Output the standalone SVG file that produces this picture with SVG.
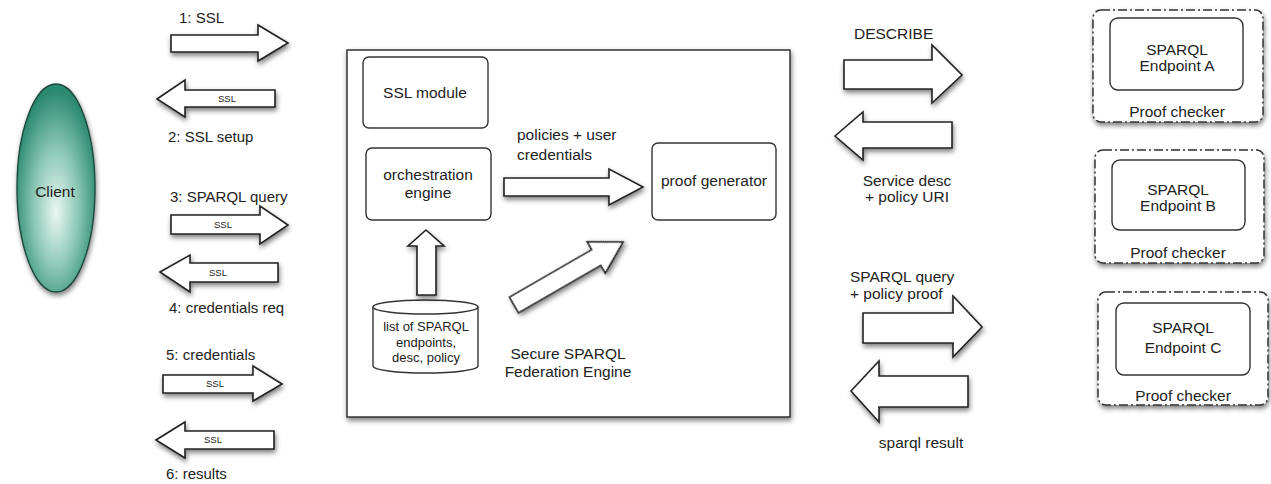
<svg xmlns="http://www.w3.org/2000/svg" width="1271" height="484" viewBox="0 0 1271 484">
<style>
text{font-family:"Liberation Sans",Arial,sans-serif;fill:#222;font-size:15.5px}
.l{font-size:15px}
.s{font-size:9.5px;text-anchor:middle}
.c{text-anchor:middle}
.db{font-size:13px;text-anchor:middle}
.arr{fill:#fff;stroke:#222;stroke-width:1.6;stroke-linejoin:miter;filter:url(#sh)}
.box{fill:#fff;stroke:#333;stroke-width:1.4}
.dash{fill:#fff;stroke:#333;stroke-width:1.5;stroke-dasharray:9 3 2 3;filter:url(#sh)}
</style>
<defs>
<filter id="sh" x="-20%" y="-20%" width="140%" height="150%">
<feDropShadow dx="1" dy="3" stdDeviation="2.5" flood-color="#000" flood-opacity="0.5"/>
</filter>
<radialGradient id="cg" cx="50%" cy="58%" r="55%" fx="50%" fy="62%">
<stop offset="0" stop-color="#eaf6f2"/>
<stop offset="0.5" stop-color="#8fcab8"/>
<stop offset="1" stop-color="#2b8a6e"/>
</radialGradient>
</defs>
<rect width="1271" height="484" fill="#fff"/>

<g id="client">
<ellipse cx="56" cy="188" rx="39" ry="104" fill="url(#cg)" stroke="#1e4a3c" stroke-width="1.4" filter="url(#sh)"/>
<text x="55" y="197" class="c">Client</text>
</g>

<g id="engine">
<rect x="347" y="50" width="443" height="367" fill="#fff" stroke="#333" stroke-width="1.5" filter="url(#sh)"/>
<text x="568" y="359" class="c">Secure SPARQL</text>
<text x="568" y="377" class="c">Federation Engine</text>
</g>
<g id="ssl-module">
<rect x="363" y="57" width="125" height="71" rx="6" class="box"/>
<text x="425" y="97.5" class="c">SSL module</text>
</g>
<g id="orchestration">
<rect x="366" y="148" width="125" height="72" rx="6" class="box"/>
<text x="428" y="180" class="c">orchestration</text>
<text x="428" y="198" class="c">engine</text>
</g>
<g id="proof-generator">
<rect x="652" y="143" width="124" height="77" rx="6" class="box"/>
<text x="714" y="186" class="c">proof generator</text>
</g>
<g id="endpoint-list">
<path d="M373,307 A52.5,7 0 0 1 478,307 L478,366 A52.5,7 0 0 1 373,366 Z" class="box"/>
<path d="M373,307 A52.5,7 0 0 0 478,307" fill="none" stroke="#333" stroke-width="1.4"/>
<text x="426" y="331" class="db">list of SPARQL</text>
<text x="426" y="347" class="db">endpoints,</text>
<text x="426" y="362" class="db">desc, policy</text>
</g>

<g id="endpoint-a">
<rect x="1093" y="10" width="170" height="112" rx="8" class="dash"/>
<rect x="1110" y="18" width="133" height="72" rx="8" class="box"/>
<text x="1177" y="55" class="c">SPARQL</text>
<text x="1177" y="71" class="c">Endpoint A</text>
<text x="1177" y="117" class="c">Proof checker</text>
</g>
<g id="endpoint-b">
<rect x="1095" y="150" width="169" height="113" rx="8" class="dash"/>
<rect x="1112" y="160" width="133" height="70" rx="8" class="box"/>
<text x="1178" y="195" class="c">SPARQL</text>
<text x="1178" y="211" class="c">Endpoint B</text>
<text x="1178" y="258" class="c">Proof checker</text>
</g>
<g id="endpoint-c">
<rect x="1098" y="292" width="170" height="113" rx="8" class="dash"/>
<rect x="1116" y="303" width="134" height="72" rx="8" class="box"/>
<text x="1183" y="333" class="c">SPARQL</text>
<text x="1183" y="353" class="c">Endpoint C</text>
<text x="1183" y="401" class="c">Proof checker</text>
</g>

<g id="connectors">
<polygon class="arr" points="171,35 258,35 258,25 288,43 258,61 258,52 171,52"/>
<text x="179" y="23" class="l">1: SSL</text>
<polygon class="arr" points="157,99 185,80 185,90 275,90 275,107 185,107 185,117"/>
<text x="227" y="102" class="s">SSL</text>
<text x="168" y="142" class="l">2: SSL setup</text>
<polygon class="arr" points="171,215 260,215 260,206 288,225 260,244 260,234 171,234"/>
<text x="223" y="228" class="s">SSL</text>
<text x="170" y="202" class="l">3: SPARQL query</text>
<polygon class="arr" points="160,272 190,255 190,263 278,263 278,282 190,282 190,292"/>
<text x="218" y="276" class="s">SSL</text>
<text x="169" y="313" class="l">4: credentials req</text>
<text x="166" y="360" class="l">5: credentials</text>
<polygon class="arr" points="163,375 253,375 253,366 282,384 253,401 253,393 163,393"/>
<text x="215" y="387" class="s">SSL</text>
<polygon class="arr" points="156,440 185,422 185,431 274,431 274,449 185,449 185,458"/>
<text x="213" y="443" class="s">SSL</text>
<text x="166" y="479" class="l">6: results</text>

<polygon class="arr" points="504,178 609,178 609,169 643,187 609,205 609,196 504,196"/>
<text x="517" y="140">policies + user</text>
<text x="517" y="160">credentials</text>
<polygon class="arr" points="417,295 417,246 408,246 426,230 444,246 436,246 436,295"/>
<polygon class="arr" transform="translate(514,305) rotate(-30)" points="0,-9 95,-9 95,-18 126,0 95,18 95,9 0,9"/>

<polygon class="arr" points="844,60 932,60 932,45 962,75 932,103 932,89 844,89"/>
<text x="854" y="39">DESCRIBE</text>
<polygon class="arr" points="835,136 863,112 863,122 952,122 952,148 863,148 863,160"/>
<text x="907" y="186" class="c">Service desc</text>
<text x="907" y="202" class="c">+ policy URI</text>
<polygon class="arr" points="863,313 953,313 953,296 982,327 953,357 953,343 863,343"/>
<text x="850" y="282">SPARQL query</text>
<text x="850" y="299">+ policy proof</text>
<polygon class="arr" points="851,391 879,361 879,376 968,376 968,407 879,407 879,422"/>
<text x="921" y="448" class="c">sparql result</text>
</g>
</svg>
